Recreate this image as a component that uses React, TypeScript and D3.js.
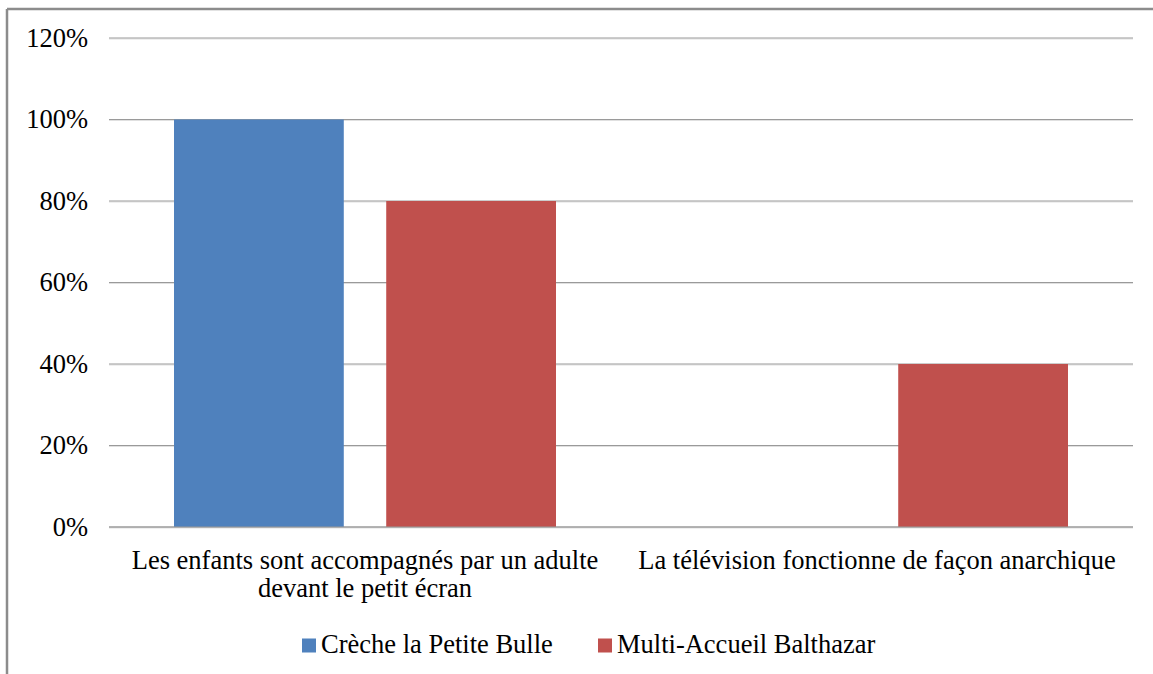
import React from "react";
import * as d3 from "d3";

const categories = [
  ["Les enfants sont accompagnés par un adulte", "devant le petit écran"],
  ["La télévision fonctionne de façon anarchique"],
];
const seriesNames = ["Crèche la Petite Bulle", "Multi-Accueil Balthazar"];
const seriesColors = ["#4F81BD", "#C0504D"];
const creche = [1.0, 0.0];
const multi = [0.8, 0.4];
const yTicks = [0, 0.2, 0.4, 0.6, 0.8, 1.0, 1.2];

const W = 1153;
const H = 674;
const FS = 26.5;
const FONT = "Liberation Serif";

export default function App() {
  const values = [creche, multi];
  const x0 = d3.scaleBand<number>().domain([0, 1]).range([109, 1133]).paddingInner(0);
  const bw0 = x0.bandwidth();
  const x1 = d3.scaleBand<number>().domain([0, 1]).range([65, bw0 - 65]).paddingInner(0.2);
  const y = d3.scaleLinear().domain([0, 1.2]).range([527, 38]);
  const fmt = d3.format(".0%");
  const ts = { fontFamily: FONT, fontSize: FS };

  return (
    <div style={{ position: "absolute", left: 0, top: 0 }}>
      <svg
        width={W}
        height={H}
        fontFamily={FONT}
        fontSize={FS}
        style={{ display: "block", background: "#fff" }}
      >
        <rect x={0} y={0} width={W} height={H} fill="#fff" />
        <line x1={7} y1={9} x2={W} y2={9} stroke="#8c8c8c" strokeWidth={2.5} />
        <line x1={7} y1={9} x2={7} y2={H} stroke="#8c8c8c" strokeWidth={2.5} />
        {yTicks.map((t) => (
          <g key={t}>
            <line x1={109} x2={1133} y1={y(t) + 1} y2={y(t) + 1} stroke="#e0e0e0" strokeWidth={1} />
            <line x1={109} x2={1133} y1={y(t)} y2={y(t)} stroke="#9a9a9a" strokeWidth={1.2} />
            <text x={88} y={y(t) + 8.5} textAnchor="end" style={ts} fill="#000">
              {fmt(t)}
            </text>
          </g>
        ))}
        {categories.map((c, ci) =>
          values.map((s, si) =>
            s[ci] > 0 ? (
              <rect
                key={`${ci}-${si}`}
                x={(x0(ci) as number) + (x1(si) as number)}
                y={y(s[ci])}
                width={x1.bandwidth()}
                height={y(0) - y(s[ci])}
                fill={seriesColors[si]}
              />
            ) : null
          )
        )}
        <line x1={109} x2={1133} y1={y(0)} y2={y(0)} stroke="#9a9a9a" strokeWidth={1.2} />
        {categories.map((c, ci) => (
          <text key={ci} textAnchor="middle" style={ts} fill="#000">
            {c.map((line, li) => (
              <tspan key={li} x={(x0(ci) as number) + bw0 / 2} y={568.5 + li * 28.5}>
                {line}
              </tspan>
            ))}
          </text>
        ))}
        {seriesNames.map((n, i) => {
          const lx = [302, 598][i];
          return (
            <g key={n}>
              <rect x={lx} y={638.5} width={14} height={14} fill={seriesColors[i]} />
              <text x={lx + 19} y={652.5} style={ts} fill="#000">
                {n}
              </text>
            </g>
          );
        })}
      </svg>
    </div>
  );
}
